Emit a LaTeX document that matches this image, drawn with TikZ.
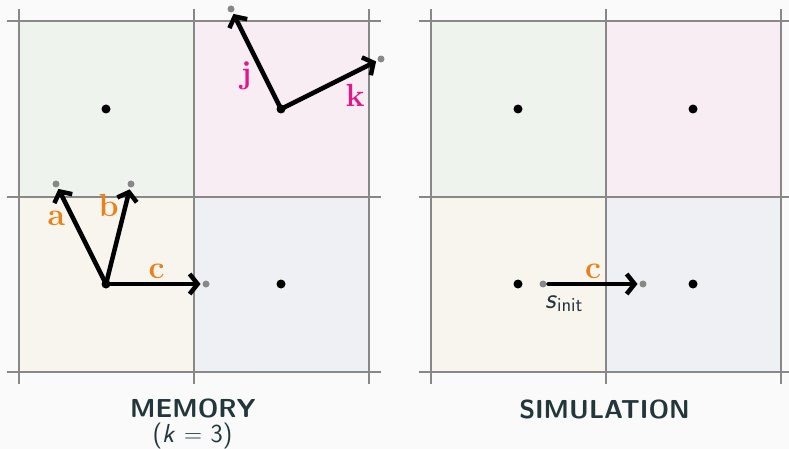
\documentclass[tikz,border=0pt]{standalone}
\usepackage{fontspec}
\usetikzlibrary{arrows.meta}
\definecolor{bg}{HTML}{FAFAFA}
\definecolor{cgreen}{HTML}{EFF3EE}
\definecolor{cpink}{HTML}{F9EDF4}
\definecolor{cbeige}{HTML}{F8F5EF}
\definecolor{cblue}{HTML}{EFF0F4}
\definecolor{gridc}{HTML}{888888}
\definecolor{dotg}{HTML}{888888}
\definecolor{corange}{HTML}{E8831B}
\definecolor{cmag}{HTML}{E5168A}
\definecolor{dteal}{HTML}{23373B}
\tikzset{
  gridline/.style={draw=gridc, line width=2pt},
  bdot/.style={circle, fill=black, inner sep=0pt, minimum size=9pt},
  gdot/.style={circle, fill=dotg, inner sep=0pt, minimum size=7pt, outer sep=2pt},
  vec/.style={line width=4.5pt, line cap=round, line join=round, -{Straight Barb[length=8pt,width=20pt]}},
  lab/.style={anchor=base, inner sep=0pt, font=\fontsize{32}{32}\selectfont\bfseries},
  ttl/.style={anchor=base, inner sep=0pt, text=dteal, font=\sffamily\bfseries\fontsize{26}{26}\selectfont},
  sub/.style={anchor=base, inner sep=0pt, text=dteal, font=\sffamily\fontsize{26}{26}\selectfont}
}
\begin{document}
\begin{tikzpicture}[x=1pt, y=-1pt]
\fill[bg] (0,0) rectangle (789,449);
\useasboundingbox (0,0) rectangle (789,449);
% cells
\foreach \ox in {0,412}{
  \begin{scope}[xshift=\ox]
  \fill[cgreen] (18.5,21.5) rectangle (193.5,196.5);
  \fill[cpink] (193.5,21.5) rectangle (368.5,196.5);
  \fill[cbeige] (18.5,196.5) rectangle (193.5,371.5);
  \fill[cblue] (193.5,196.5) rectangle (368.5,371.5);
  \foreach \x in {18.5,193.5,368.5} \draw[gridline] (\x,9.5) -- (\x,383.5);
  \foreach \y in {21.5,196.5,371.5} \draw[gridline] (6.5,\y) -- (380.5,\y);
  \end{scope}
}
% memory centres
\node[bdot] (m1) at (106,109) {};
\node[bdot] (m2) at (281,109) {};
\node[bdot] (m3) at (106,284) {};
\node[bdot] (m4) at (281,284) {};
% memory endpoints
\node[gdot] (ga) at (56,184) {};
\node[gdot] (gb) at (131,184) {};
\node[gdot] (gc) at (206,284) {};
\node[gdot] (gj) at (231,9) {};
\node[gdot] (gk) at (381,59) {};
\draw[vec] (m3.center) -- (ga);
\draw[vec] (m3.center) -- (gb);
\draw[vec] (m3.center) -- (gc);
\draw[vec] (m2.center) -- (gj);
\draw[vec] (m2.center) -- (gk);
\node[lab, text=corange] (la) at (56.5,225) {a};
\node[lab, text=corange] (lb) at (108.5,216) {b};
\node[lab, text=corange] (lc) at (156.5,278) {c};
\node[lab, text=cmag] (lj) at (246,83.5) {j};
\node[lab, text=cmag] (lk) at (355,107) {k};
% simulation
\node[bdot] (s1) at (518,109) {};
\node[bdot] (s2) at (693,109) {};
\node[bdot] (s3) at (518,284) {};
\node[bdot] (s4) at (693,284) {};
\node[gdot] (si) at (543,284) {};
\node[gdot] (se) at (643,284) {};
\draw[vec] (si) -- (se);
\node[lab, text=corange] (lc2) at (593,278) {c};
\node[sub, anchor=base west, font=\sffamily\fontsize{29}{29}\selectfont] (sinit) at (545,308.5) {\textsl{s}\raisebox{-3.4pt}{\fontsize{20}{20}\selectfont init}};
% titles
\node[ttl] (tm) at (193,417.5) {MEMORY};
\node[sub] (tk) at (192.5,442) {(\textsl{k}\,\,$=$\,\,3)};
\node[ttl] (ts) at (604.5,418.5) {SIMULATION};
\end{tikzpicture}
\end{document}
